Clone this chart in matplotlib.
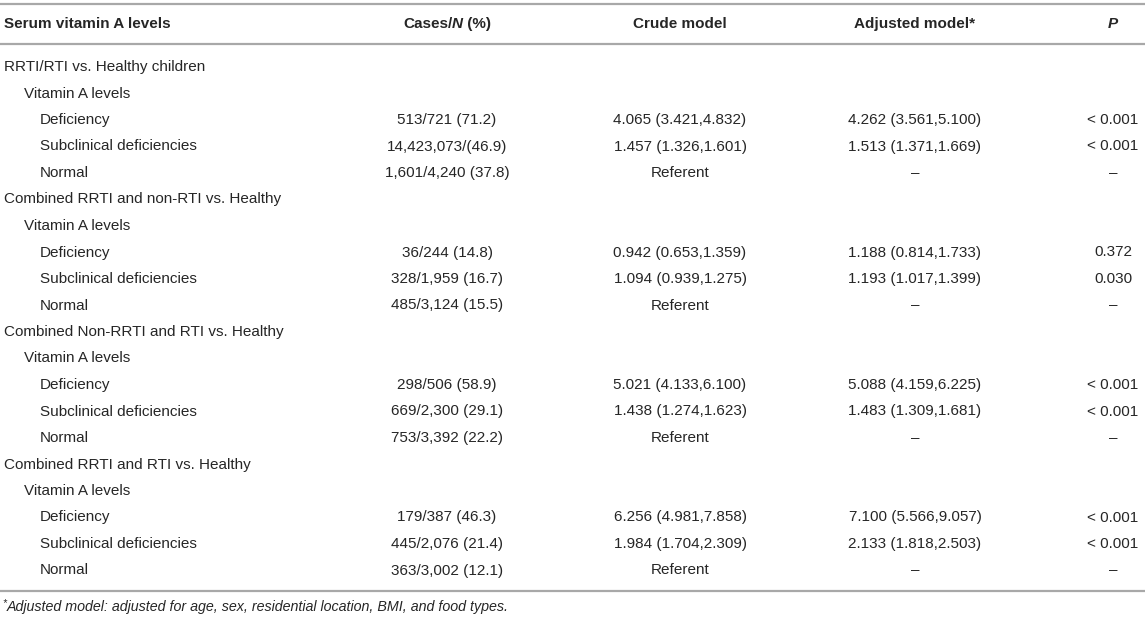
import matplotlib
matplotlib.use("Agg")
import matplotlib.pyplot as plt

plt.rcParams['font.family'] = ['Liberation Sans', 'DejaVu Sans']

# table content
headers = ["Serum vitamin A levels", "Cases/N (%)", "Crude model", "Adjusted model*", "P"]
group_titles = [
    "RRTI/RTI vs. Healthy children",
    "Combined RRTI and non-RTI vs. Healthy",
    "Combined Non-RRTI and RTI vs. Healthy",
    "Combined RRTI and RTI vs. Healthy",
]
sub_title = "Vitamin A levels"
levels = ["Deficiency", "Subclinical deficiencies", "Normal"]
cases = [
    ["513/721 (71.2)", "14,423,073/(46.9)", "1,601/4,240 (37.8)"],
    ["36/244 (14.8)", "328/1,959 (16.7)", "485/3,124 (15.5)"],
    ["298/506 (58.9)", "669/2,300 (29.1)", "753/3,392 (22.2)"],
    ["179/387 (46.3)", "445/2,076 (21.4)", "363/3,002 (12.1)"],
]
crude = [
    ["4.065 (3.421,4.832)", "1.457 (1.326,1.601)", "Referent"],
    ["0.942 (0.653,1.359)", "1.094 (0.939,1.275)", "Referent"],
    ["5.021 (4.133,6.100)", "1.438 (1.274,1.623)", "Referent"],
    ["6.256 (4.981,7.858)", "1.984 (1.704,2.309)", "Referent"],
]
adjusted = [
    ["4.262 (3.561,5.100)", "1.513 (1.371,1.669)", "\u2013"],
    ["1.188 (0.814,1.733)", "1.193 (1.017,1.399)", "\u2013"],
    ["5.088 (4.159,6.225)", "1.483 (1.309,1.681)", "\u2013"],
    ["7.100 (5.566,9.057)", "2.133 (1.818,2.503)", "\u2013"],
]
pvals = [
    ["< 0.001", "< 0.001", "\u2013"],
    ["0.372", "0.030", "\u2013"],
    ["< 0.001", "< 0.001", "\u2013"],
    ["< 0.001", "< 0.001", "\u2013"],
]
footnote = "Adjusted model: adjusted for age, sex, residential location, BMI, and food types."

W, H = 1145, 619
fig = plt.figure(figsize=(W / 100, H / 100), dpi=100)
ax = fig.add_axes([0, 0, 1, 1])
ax.set_xlim(0, W)
ax.set_ylim(H, 0)
ax.axis('off')

txt = '#262626'
line_c = '#a8a8a8'
fs = 11

col_x = [4, 447, 680, 915, 1113]
indent = [4, 24, 40]

# rules
for y in (4, 44, 591):
    ax.plot([0, W], [y, y], color=line_c, lw=1.6, solid_capstyle='butt')

# header
hy = 24
ax.text(col_x[0], hy, headers[0], fontsize=fs, fontweight='bold', color=txt, va='center', ha='left')
ax.text(col_x[2], hy, headers[2], fontsize=fs, fontweight='bold', color=txt, va='center', ha='center')
ax.text(col_x[3], hy, headers[3], fontsize=fs, fontweight='bold', color=txt, va='center', ha='center')
ax.text(col_x[4], hy, headers[4], fontsize=fs, fontweight='bold', style='italic', color=txt,
        va='center', ha='center')

# "Cases/N (%)" with italic N, centred as one piece
fig.canvas.draw()
r = fig.canvas.get_renderer()
parts = [("Cases/", 'normal'), ("N", 'italic'), (" (%)", 'normal')]
objs = []
for s, st in parts:
    t = ax.text(0, hy, s, fontsize=fs, fontweight='bold', style=st, color=txt, va='center', ha='left')
    objs.append(t)
widths = [t.get_window_extent(renderer=r).width for t in objs]
x0 = col_x[1] - sum(widths) / 2
for t, w in zip(objs, widths):
    t.set_x(x0)
    x0 += w

# body
y = 67
dy = 26.5
for g in range(len(group_titles)):
    ax.text(indent[0], y, group_titles[g], fontsize=fs, color=txt, va='center', ha='left')
    y += dy
    ax.text(indent[1], y, sub_title, fontsize=fs, color=txt, va='center', ha='left')
    y += dy
    for k in range(len(levels)):
        ax.text(indent[2], y, levels[k], fontsize=fs, color=txt, va='center', ha='left')
        ax.text(col_x[1], y, cases[g][k], fontsize=fs, color=txt, va='center', ha='center')
        ax.text(col_x[2], y, crude[g][k], fontsize=fs, color=txt, va='center', ha='center')
        ax.text(col_x[3], y, adjusted[g][k], fontsize=fs, color=txt, va='center', ha='center')
        ax.text(col_x[4], y, pvals[g][k], fontsize=fs, color=txt, va='center', ha='center')
        y += dy

# footnote
ax.text(2, 603, "*", fontsize=7.5, style='italic', color=txt, va='center', ha='left')
ax.text(7, 607, footnote, fontsize=10.3, style='italic', color=txt, va='center', ha='left')

fig.savefig("out.png", dpi=100)
